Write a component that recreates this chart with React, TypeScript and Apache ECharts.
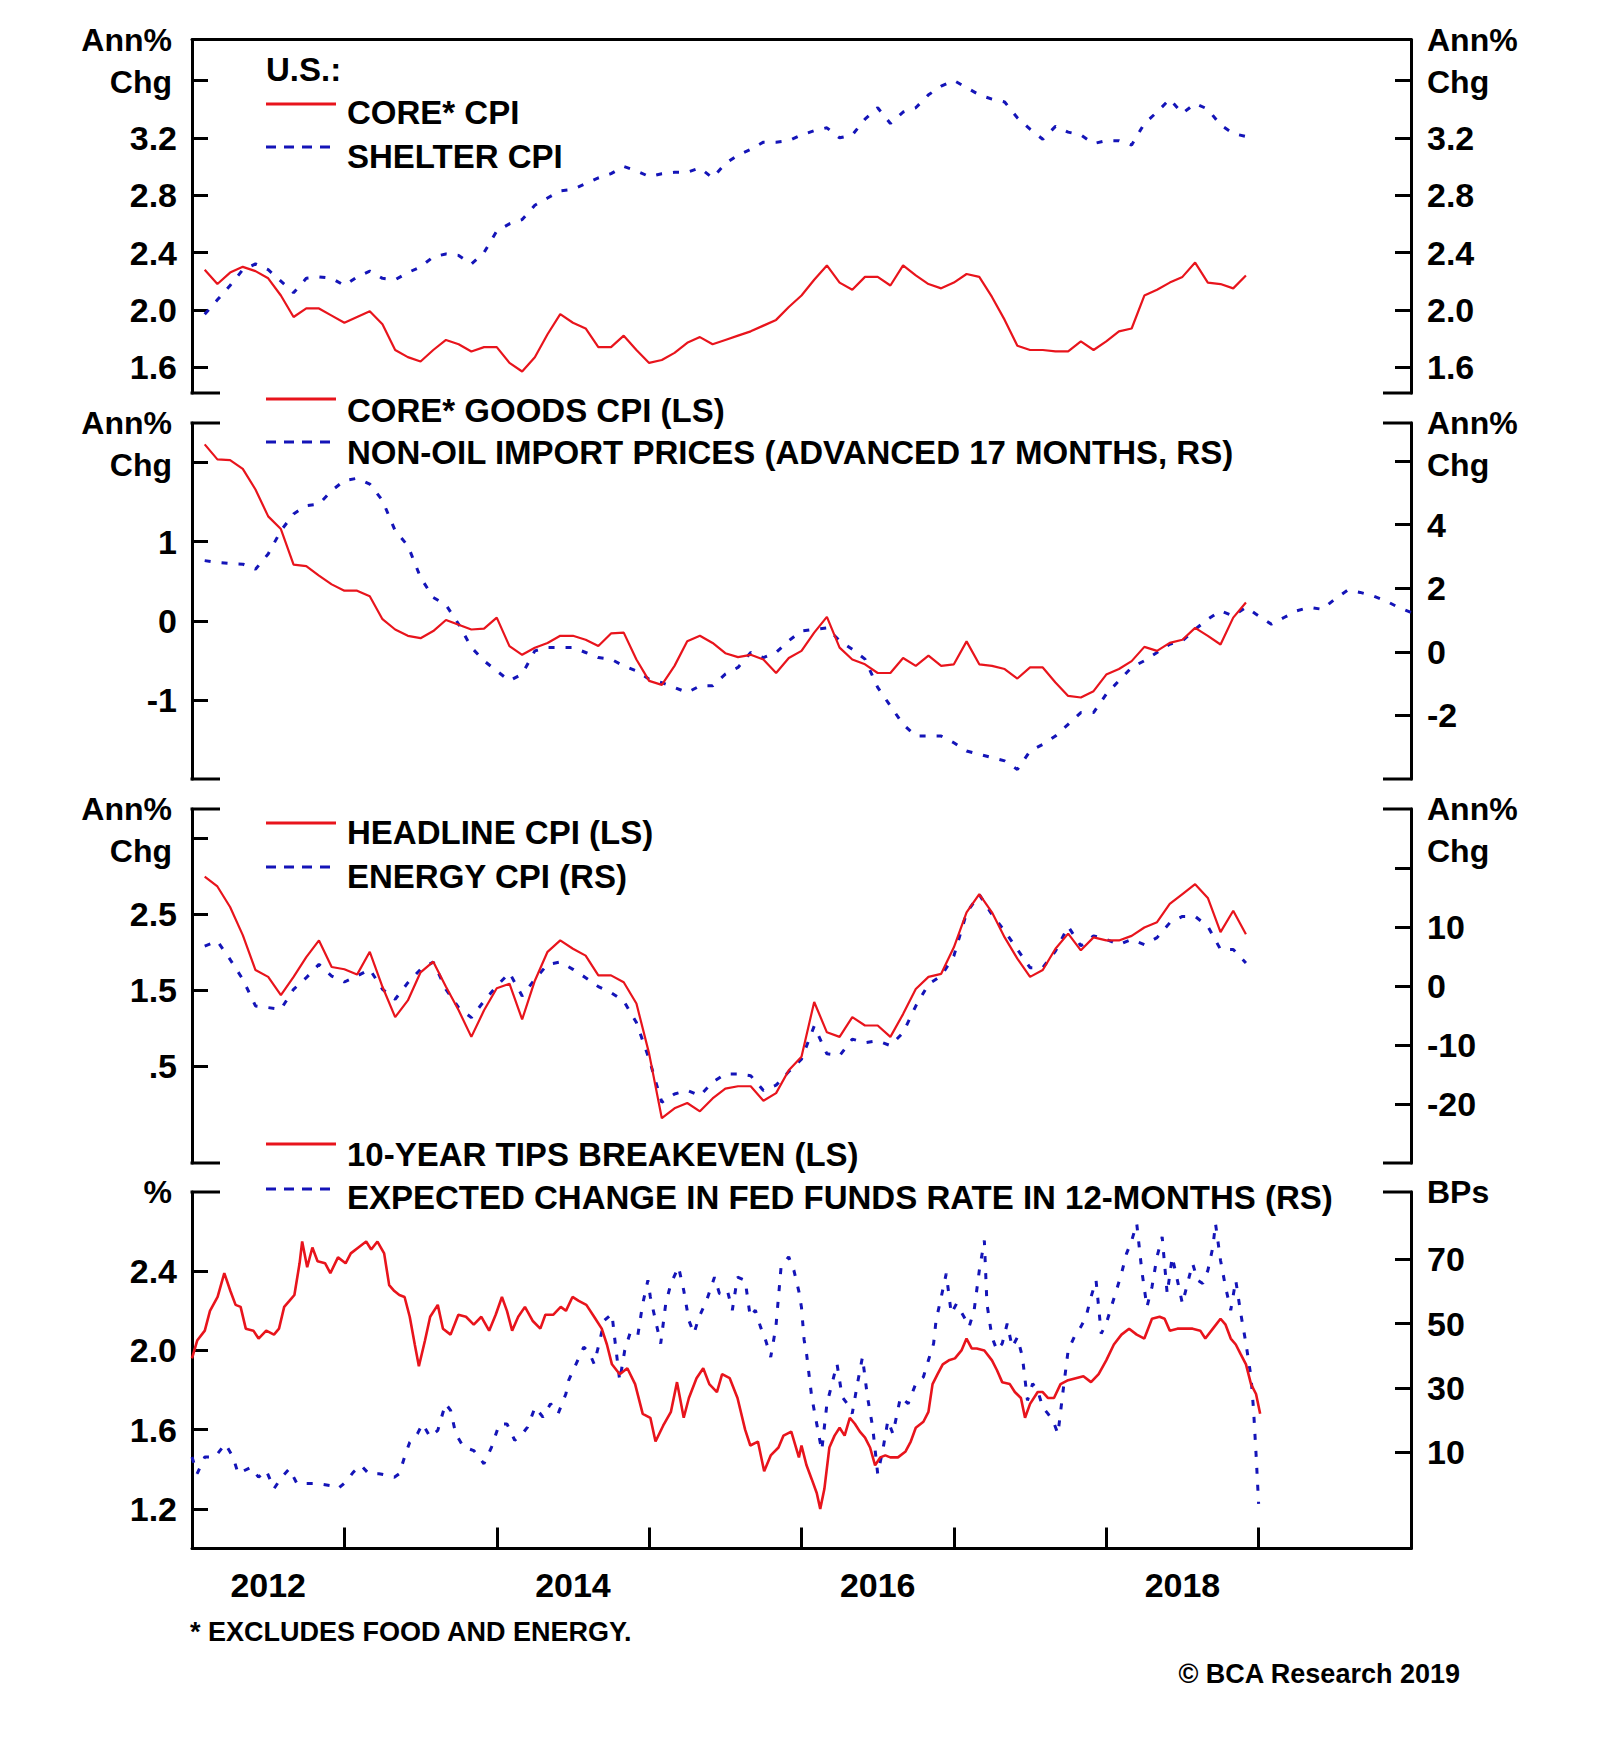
import React, { useEffect, useRef } from 'react';
import * as echarts from 'echarts';

// ---------------- DATA ----------------
const START_YEAR = 2012;
const END_YEAR = 2020;

// Monthly, Jan 2012 - Nov 2018 (annual % change)
const coreCpi = [
  2.28, 2.18, 2.26, 2.30, 2.27, 2.22, 2.10, 1.95, 2.01, 2.01, 1.96, 1.91,
  1.95, 1.99, 1.90, 1.72, 1.67, 1.64, 1.72, 1.79, 1.76, 1.71, 1.74, 1.74,
  1.63, 1.57, 1.67, 1.83, 1.97, 1.91, 1.87, 1.74, 1.74, 1.82, 1.72, 1.63,
  1.65, 1.70, 1.77, 1.81, 1.76, 1.79, 1.82, 1.85, 1.89, 1.93, 2.02, 2.10,
  2.21, 2.31, 2.19, 2.14, 2.23, 2.23, 2.17, 2.31, 2.24, 2.18, 2.15, 2.19,
  2.25, 2.23, 2.09, 1.93, 1.75, 1.72, 1.72, 1.71, 1.71, 1.78, 1.72, 1.78,
  1.85, 1.87, 2.10, 2.14, 2.19, 2.23, 2.33, 2.19, 2.18, 2.15, 2.24,
];
const shelterCpi = [
  1.97, 2.07, 2.17, 2.28, 2.32, 2.28, 2.20, 2.12, 2.22, 2.23, 2.22, 2.17,
  2.23, 2.27, 2.22, 2.21, 2.26, 2.30, 2.37, 2.39, 2.38, 2.32, 2.40, 2.55,
  2.60, 2.63, 2.73, 2.78, 2.83, 2.84, 2.88, 2.92, 2.95, 3.00, 2.97, 2.93,
  2.95, 2.96, 2.96, 2.99, 2.92, 3.02, 3.08, 3.12, 3.17, 3.17, 3.18, 3.22,
  3.25, 3.27, 3.20, 3.22, 3.33, 3.41, 3.30, 3.38, 3.41, 3.50, 3.56, 3.60,
  3.55, 3.50, 3.47, 3.45, 3.34, 3.26, 3.19, 3.28, 3.24, 3.22, 3.16, 3.18,
  3.18, 3.15, 3.30, 3.38, 3.47, 3.37, 3.44, 3.40, 3.29, 3.23, 3.21,
];
const coreGoodsCpi = [
  2.23, 2.04, 2.03, 1.92, 1.66, 1.32, 1.16, 0.71, 0.69, 0.57, 0.46, 0.38,
  0.38, 0.31, 0.02, -0.11, -0.19, -0.22, -0.13, 0.01, -0.05, -0.11, -0.10, 0.04,
  -0.32, -0.43, -0.34, -0.28, -0.19, -0.19, -0.24, -0.32, -0.16, -0.15, -0.49, -0.76,
  -0.81, -0.57, -0.26, -0.19, -0.28, -0.41, -0.46, -0.43, -0.49, -0.66, -0.47, -0.38,
  -0.15, 0.05, -0.34, -0.49, -0.55, -0.66, -0.66, -0.47, -0.57, -0.44, -0.57, -0.55,
  -0.26, -0.55, -0.57, -0.61, -0.73, -0.59, -0.59, -0.78, -0.95, -0.97, -0.89, -0.68,
  -0.61, -0.51, -0.33, -0.38, -0.28, -0.24, -0.09, -0.19, -0.30, 0.04, 0.23,
];
// Non-oil import prices, advanced 17 months (plotted Jan 2012 onwards, clipped at 2020)
const nonOilImportAdv = [
  2.87, 2.81, 2.78, 2.76, 2.60, 3.08, 3.81, 4.34, 4.60, 4.65, 5.07, 5.39,
  5.46, 5.28, 4.76, 3.81, 3.34, 2.34, 1.71, 1.48, 0.87, 0.14, -0.28, -0.60,
  -0.91, -0.70, 0.03, 0.14, 0.14, 0.14, -0.02, -0.18, -0.23, -0.44, -0.60, -0.86,
  -0.97, -1.12, -1.28, -1.07, -1.07, -0.70, -0.49, -0.02, -0.18, -0.02, 0.35, 0.66,
  0.71, 0.75, 0.35, 0.08, -0.23, -1.12, -1.70, -2.28, -2.65, -2.65, -2.65, -2.86,
  -3.12, -3.22, -3.33, -3.43, -3.70, -3.12, -2.91, -2.65, -2.28, -1.91, -1.91, -1.33,
  -0.91, -0.49, -0.28, -0.02, 0.24, 0.35, 0.71, 1.03, 1.29, 1.13, 1.40, 1.13,
  0.87, 1.08, 1.29, 1.40, 1.34, 1.66, 1.94, 1.87, 1.76, 1.61, 1.40, 1.24,
  1.10,
];
const headlineCpi = [
  2.99, 2.86, 2.59, 2.22, 1.76, 1.67, 1.43, 1.67, 1.93, 2.15, 1.80, 1.77,
  1.70, 2.00, 1.54, 1.14, 1.36, 1.73, 1.87, 1.54, 1.23, 0.88, 1.23, 1.52,
  1.58, 1.11, 1.62, 2.00, 2.15, 2.04, 1.95, 1.69, 1.69, 1.60, 1.32, 0.66,
  -0.19, -0.06, 0.01, -0.10, 0.07, 0.20, 0.23, 0.23, 0.04, 0.14, 0.44, 0.62,
  1.34, 0.94, 0.88, 1.14, 1.03, 1.03, 0.88, 1.18, 1.51, 1.67, 1.71, 2.06,
  2.52, 2.76, 2.52, 2.19, 1.91, 1.67, 1.76, 2.04, 2.24, 2.02, 2.19, 2.15,
  2.15, 2.21, 2.32, 2.39, 2.63, 2.76, 2.89, 2.71, 2.26, 2.54, 2.23,
];
const energyCpi = [
  6.76, 7.60, 4.50, 1.13, -3.38, -3.66, -3.94, -0.56, 1.41, 3.66, 1.69, 0.68,
  1.69, 2.82, -0.56, -2.25, 0.56, 2.82, 4.06, -0.56, -3.66, -5.35, -2.54, 0.00,
  2.25, -1.69, 1.13, 3.66, 4.06, 2.82, 1.41, -0.11, -1.13, -2.54, -6.20, -12.4,
  -19.7, -18.3, -17.7, -18.6, -16.3, -14.9, -14.9, -15.2, -17.7, -16.8, -14.5, -12.4,
  -6.8, -11.5, -11.8, -9.0, -9.6, -9.3, -10.1, -7.9, -3.4, 0.3, 1.7, 5.1,
  12.4, 15.5, 12.1, 9.3, 6.2, 3.1, 3.1, 5.9, 10.1, 6.8, 8.5, 7.9,
  7.0, 7.9, 7.0, 8.2, 10.7, 11.8, 11.8, 10.1, 6.2, 6.2, 3.9,
];
// [decimal year, %]
const tipsBreakeven = [
  [2012.000, 1.96], [2012.034, 2.05], [2012.084, 2.10], [2012.118, 2.20], [2012.168, 2.27], [2012.212, 2.39],
  [2012.252, 2.30], [2012.286, 2.23], [2012.319, 2.22], [2012.353, 2.11], [2012.403, 2.10], [2012.437, 2.06],
  [2012.487, 2.10], [2012.538, 2.08], [2012.571, 2.11], [2012.605, 2.22], [2012.639, 2.25], [2012.672, 2.28],
  [2012.706, 2.44], [2012.723, 2.55], [2012.756, 2.42], [2012.790, 2.52], [2012.824, 2.45], [2012.874, 2.44],
  [2012.908, 2.39], [2012.958, 2.47], [2013.008, 2.44], [2013.042, 2.49], [2013.092, 2.52], [2013.143, 2.55],
  [2013.176, 2.51], [2013.217, 2.55], [2013.261, 2.49], [2013.294, 2.33], [2013.328, 2.30], [2013.361, 2.28],
  [2013.395, 2.27], [2013.429, 2.17], [2013.462, 2.03], [2013.489, 1.92], [2013.529, 2.05], [2013.563, 2.17],
  [2013.613, 2.23], [2013.647, 2.11], [2013.697, 2.08], [2013.748, 2.18], [2013.798, 2.17], [2013.849, 2.13],
  [2013.899, 2.17], [2013.950, 2.10], [2013.993, 2.18], [2014.034, 2.27], [2014.067, 2.20], [2014.101, 2.10],
  [2014.141, 2.17], [2014.185, 2.22], [2014.235, 2.15], [2014.286, 2.11], [2014.319, 2.18], [2014.370, 2.18],
  [2014.420, 2.22], [2014.454, 2.20], [2014.497, 2.27], [2014.538, 2.25], [2014.588, 2.23], [2014.639, 2.17],
  [2014.689, 2.11], [2014.723, 2.03], [2014.756, 1.93], [2014.807, 1.88], [2014.857, 1.91], [2014.908, 1.83],
  [2014.958, 1.68], [2015.008, 1.66], [2015.042, 1.54], [2015.092, 1.62], [2015.143, 1.69], [2015.183, 1.84],
  [2015.227, 1.66], [2015.261, 1.76], [2015.311, 1.86], [2015.355, 1.91], [2015.395, 1.83], [2015.445, 1.79],
  [2015.479, 1.88], [2015.529, 1.86], [2015.580, 1.76], [2015.630, 1.60], [2015.664, 1.52], [2015.714, 1.54],
  [2015.755, 1.39], [2015.798, 1.47], [2015.849, 1.51], [2015.882, 1.57], [2015.933, 1.59], [2015.983, 1.46],
  [2016.000, 1.52], [2016.033, 1.42], [2016.067, 1.35], [2016.100, 1.28], [2016.123, 1.20], [2016.150, 1.30],
  [2016.183, 1.51], [2016.217, 1.57], [2016.250, 1.61], [2016.283, 1.57], [2016.317, 1.66], [2016.350, 1.63],
  [2016.383, 1.59], [2016.417, 1.56], [2016.450, 1.51], [2016.483, 1.42], [2016.517, 1.46], [2016.550, 1.47],
  [2016.583, 1.46], [2016.633, 1.46], [2016.683, 1.49], [2016.717, 1.54], [2016.750, 1.61], [2016.800, 1.64],
  [2016.833, 1.69], [2016.860, 1.83], [2016.893, 1.88], [2016.927, 1.93], [2016.967, 1.95], [2017.007, 1.96],
  [2017.050, 2.00], [2017.083, 2.06], [2017.117, 2.01], [2017.150, 2.01], [2017.200, 2.00], [2017.250, 1.95],
  [2017.283, 1.90], [2017.317, 1.84], [2017.367, 1.83], [2017.400, 1.79], [2017.440, 1.76], [2017.467, 1.66],
  [2017.500, 1.73], [2017.550, 1.79], [2017.583, 1.79], [2017.617, 1.76], [2017.657, 1.76], [2017.700, 1.83],
  [2017.750, 1.85], [2017.800, 1.86], [2017.850, 1.87], [2017.900, 1.84], [2017.950, 1.88], [2018.000, 1.95],
  [2018.050, 2.03], [2018.100, 2.08], [2018.150, 2.11], [2018.200, 2.08], [2018.250, 2.06], [2018.300, 2.16],
  [2018.350, 2.17], [2018.383, 2.16], [2018.417, 2.10], [2018.467, 2.11], [2018.517, 2.11], [2018.567, 2.11],
  [2018.617, 2.10], [2018.650, 2.06], [2018.700, 2.11], [2018.750, 2.16], [2018.783, 2.13], [2018.817, 2.06],
  [2018.850, 2.03], [2018.883, 1.98], [2018.917, 1.93], [2018.950, 1.83], [2018.983, 1.78], [2019.010, 1.68],
];
// [decimal year, basis points]
const fedFundsExpected = [
  [2012.000, 8.5], [2012.034, 3.3], [2012.084, 8.5], [2012.151, 8.5], [2012.218, 12.6], [2012.269, 8.5],
  [2012.303, 3.3], [2012.387, 5.3], [2012.437, 2.2], [2012.487, 4.3], [2012.538, -1.4], [2012.588, 2.2],
  [2012.639, 4.8], [2012.689, 0.2], [2012.756, 0.2], [2012.824, 0.2], [2012.908, -0.4], [2012.958, -1.4],
  [2013.008, 0.7], [2013.059, 3.8], [2013.109, 5.9], [2013.160, 3.3], [2013.227, 3.3], [2013.277, 2.8],
  [2013.328, 2.2], [2013.361, 3.3], [2013.395, 8.5], [2013.429, 13.1], [2013.479, 15.7], [2013.513, 18.8],
  [2013.563, 14.7], [2013.613, 16.8], [2013.664, 25.1], [2013.697, 23.0], [2013.731, 15.7], [2013.782, 11.6],
  [2013.849, 10.5], [2013.916, 6.4], [2013.966, 11.6], [2014.017, 18.8], [2014.067, 18.8], [2014.118, 13.7],
  [2014.168, 15.7], [2014.202, 17.8], [2014.252, 24.0], [2014.303, 20.9], [2014.353, 25.1], [2014.403, 22.0],
  [2014.454, 28.2], [2014.471, 32.3], [2014.521, 37.5], [2014.571, 42.7], [2014.605, 41.2], [2014.639, 37.5],
  [2014.672, 43.8], [2014.706, 51.0], [2014.756, 53.1], [2014.773, 45.8], [2014.807, 32.3], [2014.840, 41.7],
  [2014.874, 46.9], [2014.924, 45.8], [2014.958, 56.2], [2014.992, 63.5], [2015.008, 58.3], [2015.042, 51.0],
  [2015.076, 43.8], [2015.109, 56.2], [2015.143, 62.5], [2015.193, 67.7], [2015.227, 60.4], [2015.261, 51.0],
  [2015.294, 46.9], [2015.328, 52.1], [2015.378, 57.3], [2015.429, 64.5], [2015.462, 59.3], [2015.513, 60.4],
  [2015.546, 54.2], [2015.580, 64.5], [2015.630, 63.5], [2015.664, 52.1], [2015.697, 54.2], [2015.731, 49.0],
  [2015.765, 44.8], [2015.798, 39.6], [2015.832, 49.0], [2015.866, 67.7], [2015.916, 70.8], [2015.950, 66.6],
  [2015.983, 60.0], [2016.000, 55.0], [2016.017, 45.0], [2016.033, 40.7], [2016.067, 27.2], [2016.100, 18.8],
  [2016.133, 10.5], [2016.167, 25.1], [2016.200, 31.3], [2016.233, 37.5], [2016.267, 27.2], [2016.300, 25.1],
  [2016.333, 22.0], [2016.367, 31.3], [2016.400, 39.6], [2016.433, 27.2], [2016.467, 17.8], [2016.500, 3.3],
  [2016.533, 10.5], [2016.567, 19.9], [2016.600, 15.7], [2016.650, 27.2], [2016.700, 25.1], [2016.750, 31.3],
  [2016.800, 33.4], [2016.833, 38.6], [2016.867, 43.8], [2016.883, 51.0], [2016.917, 58.3], [2016.950, 65.6],
  [2016.983, 53.1], [2017.017, 56.2], [2017.067, 52.1], [2017.100, 49.0], [2017.133, 54.2], [2017.167, 66.6],
  [2017.200, 75.9], [2017.217, 56.2], [2017.250, 45.8], [2017.283, 41.7], [2017.317, 43.8], [2017.350, 50.0],
  [2017.383, 42.7], [2017.417, 45.8], [2017.450, 39.6], [2017.483, 26.1], [2017.517, 31.3], [2017.550, 29.2],
  [2017.583, 24.0], [2017.617, 22.0], [2017.650, 19.9], [2017.683, 15.7], [2017.717, 29.2], [2017.750, 41.7],
  [2017.800, 46.9], [2017.833, 49.0], [2017.867, 52.1], [2017.900, 58.3], [2017.933, 63.5], [2017.967, 46.9],
  [2018.000, 50.0], [2018.033, 55.2], [2018.067, 60.4], [2018.100, 65.6], [2018.133, 71.8], [2018.167, 75.9],
  [2018.200, 81.2], [2018.233, 66.6], [2018.267, 55.2], [2018.300, 61.4], [2018.333, 70.8], [2018.367, 77.0],
  [2018.400, 59.3], [2018.433, 70.8], [2018.467, 63.5], [2018.500, 56.2], [2018.533, 62.5], [2018.567, 68.7],
  [2018.600, 63.5], [2018.633, 62.5], [2018.667, 66.6], [2018.700, 73.9], [2018.717, 81.2], [2018.750, 69.7],
  [2018.783, 61.4], [2018.817, 54.2], [2018.850, 63.5], [2018.883, 53.1], [2018.917, 43.8], [2018.950, 33.4],
  [2018.967, 23.0], [2018.983, 9.5], [2019.000, -6.1],
];

// Tick / label values
const p1Ticks = [1.6, 2.0, 2.4, 2.8, 3.2, 3.6];
const p1Labels = [1.6, 2.0, 2.4, 2.8, 3.2];
const p2LeftTicks = [-1, 0, 1, 2];
const p2LeftLabels = [-1, 0, 1];
const p2RightTicks = [-2, 0, 2, 4, 6];
const p2RightLabels = [-2, 0, 2, 4];
const p3LeftTicks = [0.5, 1.5, 2.5, 3.5];
const p3LeftLabels = [0.5, 1.5, 2.5];
const p3RightTicks = [-20, -10, 0, 10, 20];
const p3RightLabels = [-20, -10, 0, 10];
const p4LeftTicks = [1.2, 1.6, 2.0, 2.4];
const p4RightTicks = [10, 30, 50, 70];
const yearTicks = [2013, 2014, 2015, 2016, 2017, 2018, 2019];
const yearLabels = [2012.5, 2014.5, 2016.5, 2018.5];

// ---------------- STYLE / LAYOUT ----------------
const FONT = '"Liberation Sans", Arial, Helvetica, sans-serif';
const RED = '#e8141c';
const BLUE = '#1414b8';
const BLACK = '#000000';
const AX_L = 192;
const AX_R = 1411;
const PANELS = [
  { top: 39.5, bottom: 393 },
  { top: 423, bottom: 779 },
  { top: 809, bottom: 1163 },
  { top: 1192, bottom: 1548.5 },
];
const DASH = [6, 11];

const monthly = (vals: number[]) => vals.map((v, i) => [START_YEAR + (i + 1) / 12, v]);

function yAxis(
  gridIndex: number,
  side: 'left' | 'right',
  min: number,
  max: number,
  ticks: number[],
  labels: number[],
  fmt: (v: number) => string,
  name: string
) {
  const left = side === 'left';
  return {
    type: 'value',
    gridIndex,
    position: side,
    min,
    max,
    axisLine: { show: true, onZero: false, lineStyle: { color: BLACK, width: 3 } },
    axisTick: { show: true, inside: true, length: 16, customValues: ticks, lineStyle: { color: BLACK, width: 3 } },
    axisLabel: {
      show: true,
      customValues: labels,
      formatter: fmt,
      margin: left ? 15 : 16,
      color: BLACK,
      fontFamily: FONT,
      fontWeight: 'bold',
      fontSize: 34,
      padding: [8, 0, 0, 0],
    },
    splitLine: { show: false },
    name,
    nameLocation: 'end',
    nameGap: 21,
    nameTextStyle: {
      align: left ? 'right' : 'left',
      verticalAlign: 'top',
      lineHeight: 42,
      padding: left ? [0, 20, 0, 0] : [0, 0, 0, 16],
      fontFamily: FONT,
      fontWeight: 'bold',
      fontSize: 32,
      color: BLACK,
    },
  };
}

const f1 = (v: number) => v.toFixed(1);
const f0 = (v: number) => String(Math.round(v));
const fHalf = (v: number) => (Math.abs(v - 0.5) < 1e-9 ? '.5' : v.toFixed(1));

function xAxis(gridIndex: number, kind: 'top' | 'hidden' | 'bottom') {
  const base: any = {
    type: 'value',
    gridIndex,
    min: START_YEAR,
    max: END_YEAR,
    splitLine: { show: false },
  };
  if (kind === 'hidden') {
    return { ...base, show: false };
  }
  if (kind === 'top') {
    return {
      ...base,
      position: 'top',
      axisLine: { show: true, onZero: false, lineStyle: { color: BLACK, width: 3 } },
      axisTick: { show: false },
      axisLabel: { show: false },
    };
  }
  return {
    ...base,
    position: 'bottom',
    axisLine: { show: true, onZero: false, lineStyle: { color: BLACK, width: 3 } },
    axisTick: { show: true, inside: true, length: 21, customValues: yearTicks, lineStyle: { color: BLACK, width: 3 } },
    axisLabel: {
      show: true,
      customValues: yearLabels,
      formatter: (v: number) => String(Math.floor(v)),
      margin: 19,
      color: BLACK,
      fontFamily: FONT,
      fontWeight: 'bold',
      fontSize: 34,
    },
  };
}

function lineSeries(name: string, x: number, y: number, data: number[][], color: string, width: number, dashed: boolean, z: number) {
  return {
    type: 'line',
    name,
    xAxisIndex: x,
    yAxisIndex: y,
    data,
    showSymbol: false,
    symbol: 'none',
    silent: true,
    clip: true,
    z,
    itemStyle: { color },
    lineStyle: { color, width, type: dashed ? DASH : 'solid' },
  };
}

function legendItem(text: string, lineY: number, textY: number, color: string, dashed: boolean) {
  return [
    {
      type: 'line',
      shape: { x1: 266, y1: lineY, x2: 336, y2: lineY },
      style: { stroke: color, lineWidth: 3, lineDash: dashed ? [10, 8] : null },
      silent: true,
    },
    {
      type: 'text',
      x: 347,
      y: textY,
      style: {
        text,
        fill: BLACK,
        fontFamily: FONT,
        fontWeight: 'bold',
        fontSize: 33,
        align: 'left',
        verticalAlign: 'middle',
      },
      silent: true,
    },
  ];
}

function stubs() {
  const out: any[] = [];
  PANELS.forEach((p, i) => {
    const ys: number[] = [];
    if (i > 0) ys.push(p.top);
    if (i < PANELS.length - 1) ys.push(p.bottom);
    ys.forEach((y) => {
      out.push({ type: 'line', shape: { x1: AX_L - 1.5, y1: y, x2: AX_L + 28, y2: y }, style: { stroke: BLACK, lineWidth: 3 }, silent: true });
      out.push({ type: 'line', shape: { x1: AX_R - 28, y1: y, x2: AX_R + 1.5, y2: y }, style: { stroke: BLACK, lineWidth: 3 }, silent: true });
    });
  });
  return out;
}

export default function App() {
  const ref = useRef<HTMLDivElement>(null);

  useEffect(() => {
    document.body.style.margin = '0';
    if (!ref.current) return;
    const chart = echarts.init(ref.current, undefined, { renderer: 'svg' });

    const grids = PANELS.map((p) => ({
      left: AX_L,
      width: AX_R - AX_L,
      top: p.top,
      height: p.bottom - p.top,
      containLabel: false,
    }));

    const option: any = {
      animation: false,
      backgroundColor: '#ffffff',
      grid: grids,
      xAxis: [xAxis(0, 'top'), xAxis(1, 'hidden'), xAxis(2, 'hidden'), xAxis(3, 'bottom')],
      yAxis: [
        yAxis(0, 'left', 1.42, 3.886, p1Ticks, p1Labels, f1, 'Ann%\nChg'),
        yAxis(0, 'right', 1.42, 3.886, p1Ticks, p1Labels, f1, 'Ann%\nChg'),
        yAxis(1, 'left', -2, 2.5, p2LeftTicks, p2LeftLabels, f0, 'Ann%\nChg'),
        yAxis(1, 'right', -4, 7.2, p2RightTicks, p2RightLabels, f0, 'Ann%\nChg'),
        yAxis(2, 'left', -0.78, 3.88, p3LeftTicks, p3LeftLabels, fHalf, 'Ann%\nChg'),
        yAxis(2, 'right', -30, 30, p3RightTicks, p3RightLabels, f0, 'Ann%\nChg'),
        yAxis(3, 'left', 1.0, 2.8, p4LeftTicks, p4LeftTicks, f1, '%'),
        yAxis(3, 'right', -20, 91, p4RightTicks, p4RightTicks, f0, 'BPs'),
      ],
      series: [
        lineSeries('SHELTER CPI', 0, 0, monthly(shelterCpi), BLUE, 3, true, 2),
        lineSeries('CORE* CPI', 0, 0, monthly(coreCpi), RED, 2.2, false, 3),
        lineSeries('NON-OIL IMPORT PRICES (ADVANCED 17 MONTHS, RS)', 1, 3, monthly(nonOilImportAdv), BLUE, 3, true, 2),
        lineSeries('CORE* GOODS CPI (LS)', 1, 2, monthly(coreGoodsCpi), RED, 2.2, false, 3),
        lineSeries('ENERGY CPI (RS)', 2, 5, monthly(energyCpi), BLUE, 3, true, 2),
        lineSeries('HEADLINE CPI (LS)', 2, 4, monthly(headlineCpi), RED, 2.2, false, 3),
        lineSeries('EXPECTED CHANGE IN FED FUNDS RATE IN 12-MONTHS (RS)', 3, 7, fedFundsExpected, BLUE, 3, true, 2),
        lineSeries('10-YEAR TIPS BREAKEVEN (LS)', 3, 6, tipsBreakeven, RED, 2.6, false, 3),
      ],
      graphic: [
        ...stubs(),
        {
          type: 'text',
          x: 266,
          y: 69.5,
          style: { text: 'U.S.:', fill: BLACK, fontFamily: FONT, fontWeight: 'bold', fontSize: 33, align: 'left', verticalAlign: 'middle' },
          silent: true,
        },
        ...legendItem('CORE* CPI', 104, 112, RED, false),
        ...legendItem('SHELTER CPI', 147, 156, BLUE, true),
        ...legendItem('CORE* GOODS CPI (LS)', 399, 410, RED, false),
        ...legendItem('NON-OIL IMPORT PRICES (ADVANCED 17 MONTHS, RS)', 442, 452, BLUE, true),
        ...legendItem('HEADLINE CPI (LS)', 823, 832, RED, false),
        ...legendItem('ENERGY CPI (RS)', 867, 876, BLUE, true),
        ...legendItem('10-YEAR TIPS BREAKEVEN (LS)', 1144, 1154, RED, false),
        ...legendItem('EXPECTED CHANGE IN FED FUNDS RATE IN 12-MONTHS (RS)', 1189, 1197, BLUE, true),
        {
          type: 'text',
          x: 190,
          y: 1632,
          style: { text: '* EXCLUDES FOOD AND ENERGY.', fill: BLACK, fontFamily: FONT, fontWeight: 'bold', fontSize: 27, align: 'left', verticalAlign: 'middle' },
          silent: true,
        },
        {
          type: 'text',
          x: 1460,
          y: 1674,
          style: { text: '© BCA Research 2019', fill: BLACK, fontFamily: FONT, fontWeight: 'bold', fontSize: 27, align: 'right', verticalAlign: 'middle' },
          silent: true,
        },
      ],
    };

    chart.setOption(option);
    return () => {
      chart.dispose();
    };
  }, []);

  return (
    <div
      ref={ref}
      style={{ position: 'absolute', left: 0, top: 0, width: 1600, height: 1758, background: '#ffffff' }}
    />
  );
}
